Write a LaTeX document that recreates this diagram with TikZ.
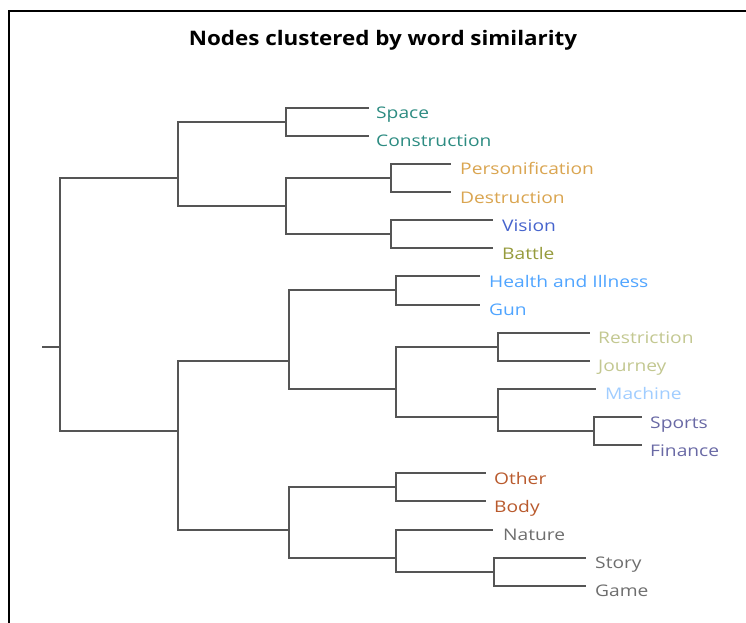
\documentclass[tikz,border=0pt]{standalone}
\usepackage{fontspec}
\newfontfamily\labelfont{Open Sans}[FakeStretch=1.2]
\newfontfamily\titlefont{Open Sans}[FakeStretch=1.12]
\definecolor{treeline}{RGB}{85,85,85}
\definecolor{cteal}{RGB}{45,140,130}
\definecolor{cgold}{RGB}{218,165,80}
\definecolor{cblue}{RGB}{70,100,205}
\definecolor{colive}{RGB}{150,155,60}
\definecolor{clblue}{RGB}{80,165,255}
\definecolor{cpale}{RGB}{195,200,145}
\definecolor{cvlblue}{RGB}{160,205,255}
\definecolor{cslate}{RGB}{105,105,165}
\definecolor{crust}{RGB}{185,90,45}
\definecolor{cgray}{RGB}{110,110,110}
\begin{document}
\begin{tikzpicture}[x=1pt,y=-1pt,
  branch/.style={draw=treeline,line width=2pt,line cap=rect},
  frame/.style={draw=black,line width=1.5pt},
  leaflabel/.style={anchor=base west,inner sep=0pt,font=\labelfont\fontsize{16}{18}\selectfont},
  titletext/.style={anchor=base,inner sep=0pt,font=\titlefont\bfseries\fontsize{20}{23}\selectfont}]
\useasboundingbox (0,0) rectangle (746,623);
\fill[white] (0,0) rectangle (746,623);
% frame (top and left only)
\coordinate (fr1) at (9,623);
\coordinate (fr2) at (9,11);
\coordinate (fr3) at (746,11);
\draw[frame] (fr1) -- (fr2) -- (fr3);
% title
\node[titletext] (title) at (383,46) {Nodes clustered by word similarity};
% leaf end points
\coordinate (p0) at (368,107.7);
\coordinate (p1) at (368,135.8);
\coordinate (p2) at (450,163.9);
\coordinate (p3) at (450,192.1);
\coordinate (p4) at (492,220.2);
\coordinate (p5) at (492,248.3);
\coordinate (p6) at (479,276.4);
\coordinate (p7) at (479,304.5);
\coordinate (p8) at (589,332.7);
\coordinate (p9) at (589,360.8);
\coordinate (p10) at (595,388.9);
\coordinate (p11) at (641,417.0);
\coordinate (p12) at (641,445.1);
\coordinate (p13) at (485,473.3);
\coordinate (p14) at (485,501.4);
\coordinate (p15) at (492,529.5);
\coordinate (p16) at (585,557.6);
\coordinate (p17) at (585,585.7);
% internal nodes
\coordinate (nA) at (286,121.75);
\coordinate (nPD) at (391,178.0);
\coordinate (nVB) at (391,234.25);
\coordinate (nB) at (286,206.1);
\coordinate (nT) at (178,178.0);
\coordinate (nHG) at (396,290.45);
\coordinate (nRJ) at (498,346.75);
\coordinate (nSF) at (594,431.05);
\coordinate (nMSF) at (498,417.0);
\coordinate (nRJMSF) at (396,388.9);
\coordinate (nC) at (289,360.8);
\coordinate (nOB) at (396,487.35);
\coordinate (nSG) at (494,571.65);
\coordinate (nNSG) at (396,557.6);
\coordinate (nD) at (289,529.5);
\coordinate (nL) at (178,431.05);
\coordinate (nR) at (60,346.7);
\coordinate (stub) at (43,346.7);
% branches
\draw[branch] (p0) -| (nA);  \draw[branch] (p1) -| (nA);
\draw[branch] (p2) -| (nPD); \draw[branch] (p3) -| (nPD);
\draw[branch] (p4) -| (nVB); \draw[branch] (p5) -| (nVB);
\draw[branch] (nPD) -| (nB); \draw[branch] (nVB) -| (nB);
\draw[branch] (nA) -| (nT);  \draw[branch] (nB) -| (nT);
\draw[branch] (p6) -| (nHG); \draw[branch] (p7) -| (nHG);
\draw[branch] (p8) -| (nRJ); \draw[branch] (p9) -| (nRJ);
\draw[branch] (p11) -| (nSF); \draw[branch] (p12) -| (nSF);
\draw[branch] (p10) -| (nMSF); \draw[branch] (nSF) -| (nMSF);
\draw[branch] (nRJ) -| (nRJMSF); \draw[branch] (nMSF) -| (nRJMSF);
\draw[branch] (nHG) -| (nC); \draw[branch] (nRJMSF) -| (nC);
\draw[branch] (p13) -| (nOB); \draw[branch] (p14) -| (nOB);
\draw[branch] (p16) -| (nSG); \draw[branch] (p17) -| (nSG);
\draw[branch] (p15) -| (nNSG); \draw[branch] (nSG) -| (nNSG);
\draw[branch] (nOB) -| (nD); \draw[branch] (nNSG) -| (nD);
\draw[branch] (nC) -| (nL); \draw[branch] (nD) -| (nL);
\draw[branch] (nT) -| (nR); \draw[branch] (nL) -| (nR);
\draw[branch] (nR) -- (stub);
% labels
\node[leaflabel,text=cteal] (t0) at (376,118.7) {Space};
\node[leaflabel,text=cteal] (t1) at (376,146.8) {Construction};
\node[leaflabel,text=cgold] (t2) at (460,174.9) {Personification};
\node[leaflabel,text=cgold] (t3) at (460,203.1) {Destruction};
\node[leaflabel,text=cblue] (t4) at (502,231.2) {Vision};
\node[leaflabel,text=colive] (t5) at (502,259.3) {Battle};
\node[leaflabel,text=clblue] (t6) at (489,287.4) {Health and Illness};
\node[leaflabel,text=clblue] (t7) at (489,315.5) {Gun};
\node[leaflabel,text=cpale] (t8) at (598,343.7) {Restriction};
\node[leaflabel,text=cpale] (t9) at (598,371.8) {Journey};
\node[leaflabel,text=cvlblue] (t10) at (605,399.9) {Machine};
\node[leaflabel,text=cslate] (t11) at (650,428.0) {Sports};
\node[leaflabel,text=cslate] (t12) at (650,456.1) {Finance};
\node[leaflabel,text=crust] (t13) at (494,484.3) {Other};
\node[leaflabel,text=crust] (t14) at (494,512.4) {Body};
\node[leaflabel,text=cgray] (t15) at (503,540.5) {Nature};
\node[leaflabel,text=cgray] (t16) at (595,568.6) {Story};
\node[leaflabel,text=cgray] (t17) at (595,596.7) {Game};
\end{tikzpicture}
\end{document}
